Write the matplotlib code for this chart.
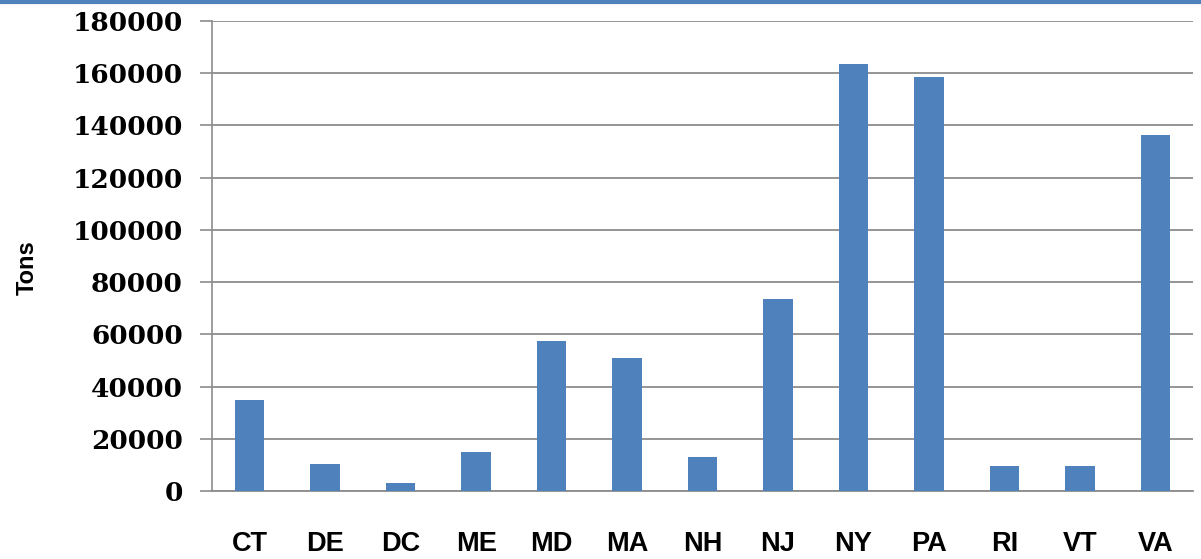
import matplotlib.pyplot as plt
import matplotlib.lines as mlines

states = ['CT', 'DE', 'DC', 'ME', 'MD', 'MA', 'NH', 'NJ', 'NY', 'PA', 'RI', 'VT', 'VA']
tons = [34800, 10400, 3200, 14800, 57500, 50800, 13200, 73600, 163500, 158600, 9400, 9400, 136500]
yticks = [0, 20000, 40000, 60000, 80000, 100000, 120000, 140000, 160000, 180000]

fig = plt.figure(figsize=(12.01, 5.59), dpi=100)
ax = fig.add_axes([212/1201, 1-491/559, 981/1201, 470/559])

ax.bar(range(len(states)), tons, width=0.39, color='#4F81BD', zorder=3)
ax.set_xlim(-0.5, len(states)-0.5)
ax.set_ylim(0, 180000)
ax.set_yticks(yticks)
ax.set_yticklabels([str(t) for t in yticks], fontfamily='DejaVu Serif',
                   fontweight='bold', fontsize=19)
ax.set_xticks(range(len(states)))
ax.set_xticklabels(states, fontfamily='Liberation Sans', fontweight='bold', fontsize=19.5)
ax.tick_params(axis='y', length=9, width=1.2, color='#8c8c8c', pad=12)
ax.tick_params(axis='x', length=0, pad=29)
ax.grid(axis='y', color='#8c8c8c', linewidth=1.3, zorder=0)
for s in ['top', 'right']:
    ax.spines[s].set_visible(False)
ax.spines['left'].set_color('#8c8c8c')
ax.spines['left'].set_linewidth(1.2)
ax.spines['bottom'].set_color('#8c8c8c')
ax.spines['bottom'].set_linewidth(1.3)

fig.text(27/1201, 1-268/559, 'Tons', rotation=90, ha='center', va='center',
         fontfamily='Liberation Sans', fontweight='bold', fontsize=17)

# blue line along the top edge
fig.add_artist(mlines.Line2D([0, 1], [0.997, 0.997], color='#4F81BD', linewidth=3,
                             transform=fig.transFigure))

fig.savefig('out.png', dpi=100)
